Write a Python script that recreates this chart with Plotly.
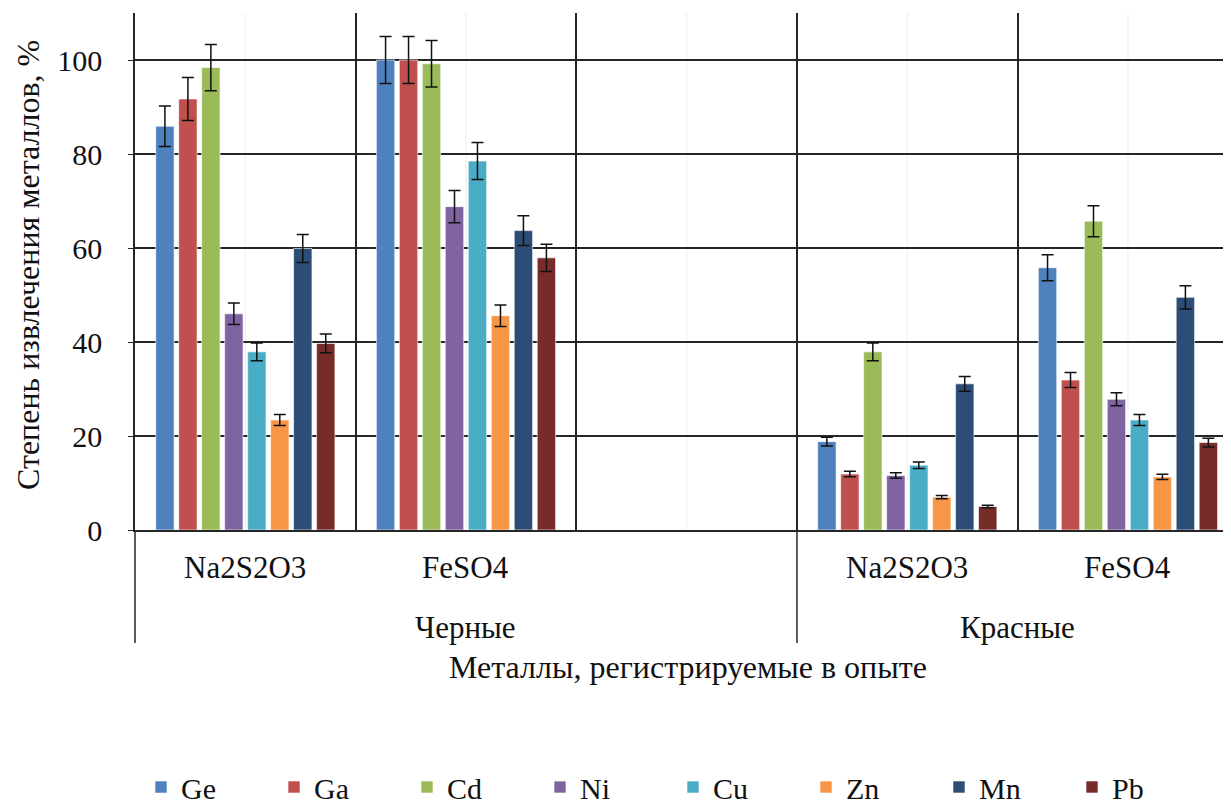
import plotly.graph_objects as go

groups = ["Черные", "Черные", "Черные", "Красные", "Красные"]
subcats = ["Na2S2O3", "FeSO4", " ", "Na2S2O3", "FeSO4"]

metals = ["Ge", "Ga", "Cd", "Ni", "Cu", "Zn", "Mn", "Pb"]
Ge = [85.9, 100.0, None, 18.8, 55.8]
Ga = [91.7, 100.0, None, 11.9, 31.9]
Cd = [98.4, 99.2, None, 37.9, 65.7]
Ni = [46.0, 68.8, None, 11.6, 27.8]
Cu = [37.9, 78.5, None, 13.8, 23.4]
Zn = [23.4, 45.6, None, 7.0, 11.3]
Mn = [59.9, 63.7, None, 31.1, 49.5]
Pb = [39.7, 57.9, None, 5.0, 18.6]
series = [Ge, Ga, Cd, Ni, Cu, Zn, Mn, Pb]
colors = ["#4F81BD", "#C0504D", "#9BBB59", "#8064A2",
          "#4BACC6", "#F79646", "#2C4D75", "#772C2A"]
error_percent = 5

FONT = "Liberation Serif"
TXT = "#111111"
LINE = "#262626"

# the page body adds an 8px margin; the figure is sized so it fills the window
OFF = 8
W, H = 1231 - OFF, 807 - OFF
PLOT_LEFT, PLOT_TOP, PLOT_BOTTOM = 135 - OFF, 13 - OFF, 530 - OFF
ML, MR, MT, MB = PLOT_LEFT, 0, PLOT_TOP, H - PLOT_BOTTOM
XR = [-0.5, 4.467]
plot_w = W - ML - MR
plot_h = H - MT - MB


def xpaper(v):
    return (v - XR[0]) / (XR[1] - XR[0])


def xpix(px):
    return (px - OFF - ML) / plot_w


def ypaper(py):
    # window pixel y -> paper fraction
    return (PLOT_BOTTOM - (py - OFF)) / plot_h


fig = go.Figure()
for name, vals, col in zip(metals, series, colors):
    fig.add_trace(go.Bar(
        x=[groups, subcats], y=vals, name=name,
        marker=dict(color=col, line=dict(color="rgba(255,255,255,0.6)", width=1)),
        error_y=dict(type="percent", value=error_percent, color="#111",
                     thickness=1.5, width=6),
    ))

annotations = []
shapes = []
for i, s in enumerate(subcats):
    annotations.append(dict(text=s, xref="paper", yref="paper", x=xpaper(i),
                            y=ypaper(567), showarrow=False, xanchor="center",
                            yanchor="middle", font=dict(size=31, family=FONT, color=TXT)))
    shapes.append(dict(type="line", xref="paper", yref="paper", x0=xpaper(i), x1=xpaper(i),
                       y0=0, y1=1, line=dict(color="#eeeeee", width=1), layer="below"))
start = 0
for i in range(1, len(groups) + 1):
    if i == len(groups) or groups[i] != groups[start]:
        mid = (start + i - 1) / 2
        annotations.append(dict(text=groups[start], xref="paper", yref="paper",
                                x=xpaper(mid), y=ypaper(627), showarrow=False,
                                xanchor="center", yanchor="middle",
                                font=dict(size=31, family=FONT, color=TXT)))
        xb = xpaper(start - 0.5)
        shapes.append(dict(type="line", xref="paper", yref="paper", x0=xb, x1=xb,
                           y0=0, y1=ypaper(643), line=dict(color=LINE, width=1.5)))
        start = i

annotations += [
    dict(text="Степень извлечения металлов, %", textangle=-90,
         xref="paper", yref="paper", x=xpix(28), y=ypaper(265),
         showarrow=False, xanchor="center", yanchor="middle",
         font=dict(size=32, family=FONT, color=TXT)),
    dict(text="Металлы, регистрируемые в опыте",
         xref="paper", yref="paper", x=xpix(688), y=ypaper(667),
         showarrow=False, xanchor="center", yanchor="middle",
         font=dict(size=32, family=FONT, color=TXT)),
]

fig.update_layout(
    width=W, height=H,
    margin=dict(l=ML, r=MR, t=MT, b=MB, autoexpand=False),
    paper_bgcolor="white", plot_bgcolor="white",
    barmode="group", bargap=0.167, bargroupgap=0.2,
    font=dict(family=FONT, size=30, color=TXT),
    showlegend=True,
    legend=dict(orientation="h", x=xpix(141), xanchor="left", y=ypaper(787), yanchor="middle",
                entrywidth=88, font=dict(size=30, family=FONT, color=TXT)),
    xaxis=dict(type="multicategory", range=XR,
               showgrid=True, gridcolor=LINE, gridwidth=1.5,
               tickson="boundaries", ticks="", showline=True, linecolor=LINE,
               linewidth=1.5, showticklabels=False, showdividers=False),
    yaxis=dict(range=[0, 110], tickvals=[0, 20, 40, 60, 80, 100],
               showgrid=True, gridcolor=LINE, gridwidth=1.5,
               zeroline=False, showline=True, linecolor=LINE, linewidth=1.5,
               ticks="outside", ticklen=5, tickcolor=LINE, ticklabelstandoff=20,
               tickfont=dict(size=30, family=FONT, color=TXT)),
    annotations=annotations,
    shapes=shapes,
)

fig.write_html("out.html")
